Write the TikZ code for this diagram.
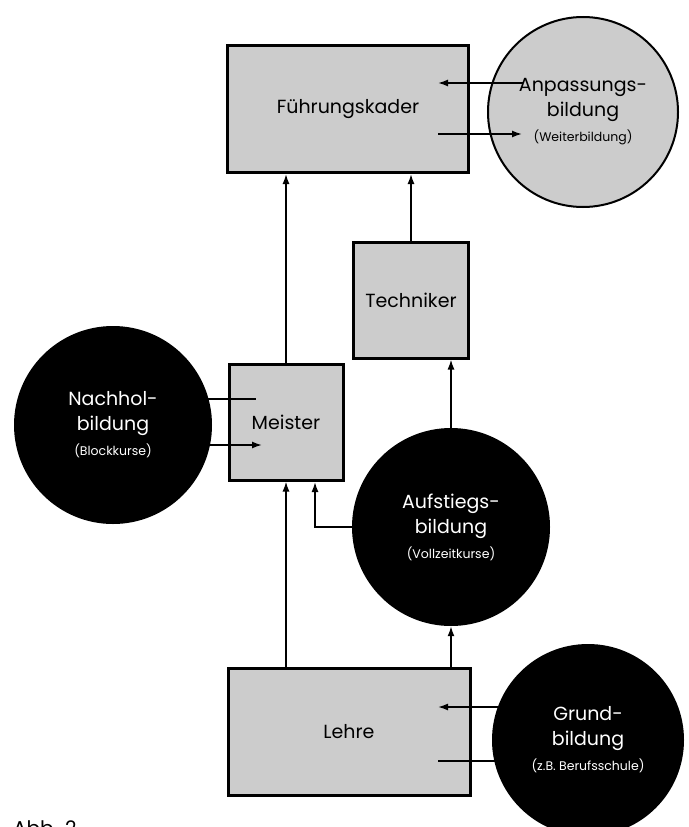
\documentclass[tikz,border=0pt]{standalone}
\usepackage{fontspec}
\setmainfont{Poppins}
\usetikzlibrary{arrows.meta}
\definecolor{raster}{gray}{0.8}
\begin{document}
\begin{tikzpicture}[x=1pt,y=-1pt,
    kasten/.style={draw=black,line width=3pt,fill=raster,inner sep=0pt,font=\fontsize{19}{25}\selectfont},
    kreishell/.style={circle,draw=black,line width=2pt,fill=raster,inner sep=0pt,align=center,font=\fontsize{19}{25}\selectfont},
    kreisdunkel/.style={circle,fill=black,text=white,inner sep=0pt,align=center,font=\fontsize{19}{25}\selectfont},
    pfeil/.style={line width=1.6pt,-{Latex[length=10pt,width=7pt]}},
    linie/.style={line width=1.6pt}]
    \clip (0,0) rectangle (688,827);
    \fill[white] (0,0) rectangle (688,827);
    \node[kasten,minimum width=241pt,minimum height=127pt] (fk) at (348,109) {Führungskader};
    \node[kreishell,minimum size=190pt] (anp) at (583,112) {Anpassungs-\\bildung\\{\fontsize{12.5}{14}\selectfont(Weiterbildung)}};
    \node[kasten,minimum width=115pt,minimum height=116pt] (tech) at (411,300) {Techniker};
    \node[kasten,minimum width=114pt,minimum height=116pt] (mst) at (286,422) {Meister};
    \node[kreisdunkel,minimum size=198pt] (nh) at (113,425) {Nachhol-\\bildung\\{\fontsize{12.5}{14}\selectfont(Blockkurse)}};
    \node[kreisdunkel,minimum size=198pt] (auf) at (451,527) {Aufstiegs-\\bildung\\{\fontsize{12.5}{14}\selectfont(Vollzeitkurse)}};
    \node[kasten,minimum width=242pt,minimum height=127pt] (lehre) at (349,732) {Lehre};
    \node[kreisdunkel,minimum size=192pt] (gb) at (588,740) {Grund-\\bildung\\{\fontsize{12.5}{14}\selectfont(z.B. Berufsschule)}};
    \node[anchor=north west,inner sep=0pt,font=\fontsize{20}{24}\selectfont] (abb) at (13,820) {Abb. 2};
    \coordinate (anp-aus) at (523,83);
    \coordinate (fk-ein) at (438,83);
    \coordinate (fk-aus) at (438,134);
    \coordinate (anp-ein) at (522,134);
    \coordinate (nh-a) at (205,399);
    \coordinate (mst-a) at (256,399);
    \coordinate (nh-b) at (205,445);
    \coordinate (mst-b) at (262,445);
    \coordinate (mst-ein) at (315,482);
    \coordinate (gb-a) at (505,707);
    \coordinate (lehre-a) at (438,707);
    \coordinate (gb-b) at (505,761);
    \coordinate (lehre-b) at (438,761);
    \draw[pfeil] (anp-aus) -- (fk-ein);
    \draw[pfeil] (fk-aus) -- (anp-ein);
    \draw[pfeil] (mst.north) -- (mst.north |- fk.south);
    \draw[pfeil] (tech.north) -- (tech.north |- fk.south);
    \draw[pfeil] (auf.north) -- (auf.north |- tech.south);
    \draw[linie] (nh-a) -- (mst-a);
    \draw[pfeil] (nh-b) -- (mst-b);
    \draw[pfeil] (auf.west) -| (mst-ein);
    \draw[pfeil] (mst.south |- lehre.north) -- (mst.south);
    \draw[pfeil] (auf.south |- lehre.north) -- (auf.south);
    \draw[pfeil] (gb-a) -- (lehre-a);
    \draw[linie] (gb-b) -- (lehre-b);
\end{tikzpicture}
\end{document}
